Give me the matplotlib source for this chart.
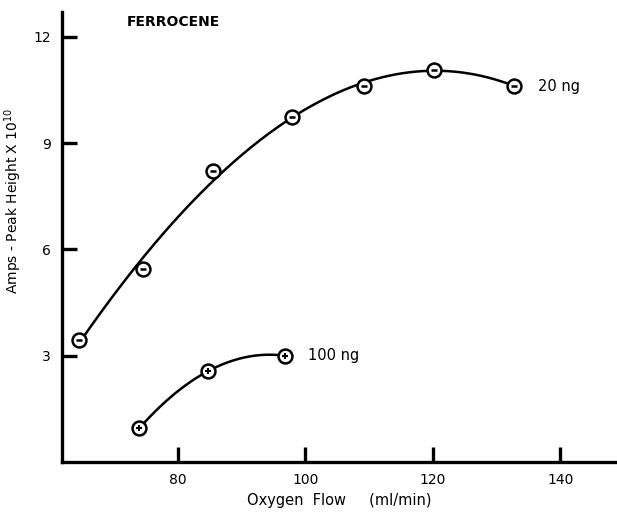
import matplotlib
matplotlib.use('Agg')
import matplotlib.pyplot as plt
import numpy as np

plt.rcParams['font.family'] = ['DejaVu Sans']

# Ferrocene response vs oxygen flow
flow_20 = [64.5, 74.5, 85.5, 98.0, 109.2, 120.2, 132.7]
amps_20 = [3.45, 5.45, 8.2, 9.72, 10.6, 11.07, 10.62]
flow_100 = [74.0, 84.7, 96.8]
amps_100 = [0.96, 2.56, 3.0]
xticks = [80, 100, 120, 140]
yticks = [3, 6, 9, 12]

fig = plt.figure(figsize=(6.17, 5.14), dpi=100)
ax = fig.add_axes([0.100, 0.101, 0.900, 0.876])

# smooth curves through each series
c20 = np.polyfit(flow_20, amps_20, 3)
xs20 = np.linspace(flow_20[0], flow_20[-1], 200)
ax.plot(xs20, np.polyval(c20, xs20), color='black', lw=1.8, zorder=2)
c100 = np.polyfit(flow_100, amps_100, 2)
xs100 = np.linspace(flow_100[0], flow_100[-1], 100)
ax.plot(xs100, np.polyval(c100, xs100), color='black', lw=1.8, zorder=2)

ax.plot(flow_20, amps_20, 'o', ms=10, mfc='white', mec='black', mew=1.8, zorder=3)
ax.plot(flow_20, amps_20, '_', ms=5, color='black', mew=1.8, zorder=4)
ax.plot(flow_100, amps_100, 'o', ms=10, mfc='white', mec='black', mew=1.8, zorder=3)
ax.plot(flow_100, amps_100, '+', ms=5, color='black', mew=1.5, zorder=4)

ax.set_xlim(61.8, 148.9)
ax.set_ylim(0, 12.7)
ax.set_xticks(xticks)
ax.set_yticks(yticks)
ax.set_yticklabels(['3', '6', '9', '12'])

for s in ['top', 'right']:
    ax.spines[s].set_visible(False)
for s in ['left', 'bottom']:
    ax.spines[s].set_linewidth(2.4)
ax.tick_params(direction='in', length=11, width=2.4, labelsize=10)
ax.tick_params(axis='x', pad=8)
ax.tick_params(axis='y', pad=8)

ax.set_xlabel('Oxygen  Flow     (ml/min)', fontsize=10.5, labelpad=4)
ax.set_ylabel('Amps - Peak Height X 10$^{10}$', fontsize=10)
ax.yaxis.set_label_coords(-0.068, 0.58)

ax.text(72, 12.3, 'FERROCENE', fontsize=10, fontweight='bold')
ax.text(136.5, 10.6, '20 ng', fontsize=10.5, va='center')
ax.text(100.5, 3.0, '100 ng', fontsize=10.5, va='center')

fig.savefig('out.png', dpi=100)
